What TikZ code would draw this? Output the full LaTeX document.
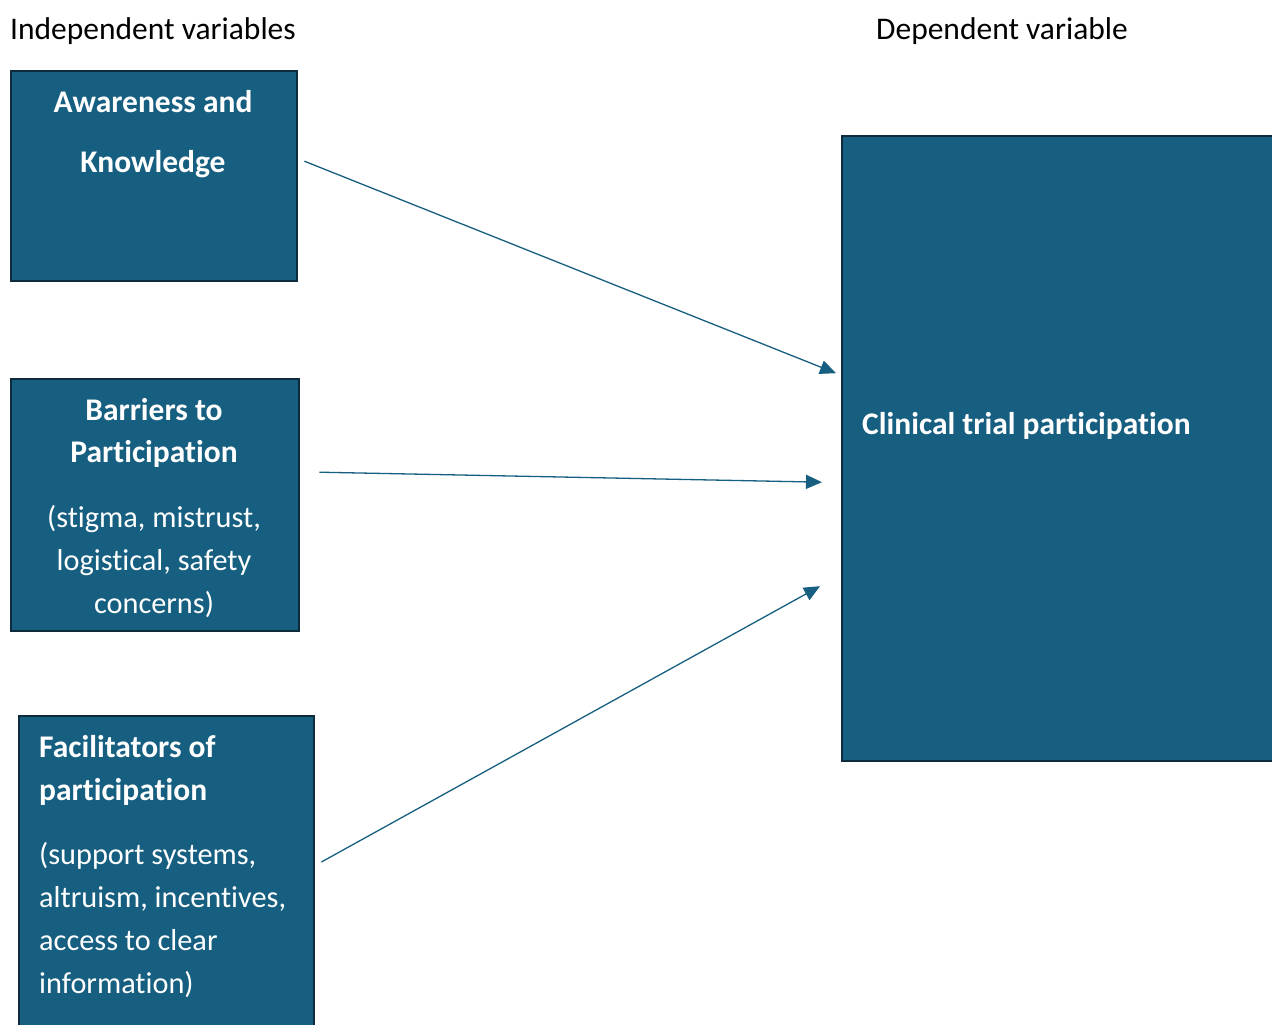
\documentclass[tikz,border=0pt]{standalone}
\usepackage{fontspec}
\setmainfont{Carlito}[Ligatures=NoCommon]
\usetikzlibrary{arrows.meta}
\definecolor{boxfill}{HTML}{175F80}
\definecolor{boxedge}{HTML}{0E2B3D}
\begin{document}
\begin{tikzpicture}[x=1pt,y=-1pt,
  box/.style={draw=boxedge, line width=2.4pt, fill=boxfill, anchor=north west, inner sep=0pt},
  hdr/.style={anchor=base west, inner sep=0pt, text=black, font=\fontsize{31.5}{36}\selectfont},
  headline/.style={inner sep=0pt, text=white, font=\fontsize{31.5}{36}\selectfont\bfseries},
  bodyline/.style={inner sep=0pt, text=white, font=\fontsize{30.3}{36}\selectfont},
  link/.style={draw=boxfill, line width=1.3pt, -{Triangle[length=16pt,width=14pt]}}]
\useasboundingbox (0,0) rectangle (1272,1025);
\clip (0,0) rectangle (1272,1025);

% column headings
\node[hdr] (hind) at (10,40) {Independent variables};
\node[hdr] (hdep) at (876,40) {Dependent variable};

% boxes
\node[box, minimum width=286pt, minimum height=210pt] (aw) at (10,70) {};
\node[box, minimum width=288pt, minimum height=252pt] (ba) at (10,378) {};
\node[box, minimum width=295pt, minimum height=340pt] (fa) at (18,715) {};
\node[box, minimum width=460pt, minimum height=625pt] (dv) at (841,135) {};

% awareness box text
\node[headline, anchor=base] (aw1) at (153,112) {Awareness and};
\node[headline, anchor=base] (aw2) at (153,172) {Knowledge};

% barriers box text
\node[headline, anchor=base] (ba1) at (154,420) {Barriers to};
\node[headline, anchor=base] (ba2) at (154,462) {Participation};
\node[bodyline, anchor=base] (ba3) at (154,527) {(stigma, mistrust,};
\node[bodyline, anchor=base] (ba4) at (154,570) {logistical, safety};
\node[bodyline, anchor=base] (ba5) at (154,613) {concerns)};

% facilitators box text
\node[headline, anchor=base west] (fa1) at (39,757) {Facilitators of};
\node[headline, anchor=base west] (fa2) at (39,800) {participation};
\node[bodyline, anchor=base west] (fa3) at (39,864) {(support systems,};
\node[bodyline, anchor=base west] (fa4) at (39,907) {altruism, incentives,};
\node[bodyline, anchor=base west] (fa5) at (39,950) {access to clear};
\node[bodyline, anchor=base west] (fa6) at (39,993) {information)};

% outcome box text
\node[headline, anchor=base west] (dv1) at (862,434) {Clinical trial participation};

% connectors
\draw[link] ([xshift=6pt,yshift=15pt]aw.east) -- ([xshift=-5pt,yshift=75.5pt]dv.west);
\draw[link] ([xshift=19pt,yshift=33pt]ba.east) -- ([xshift=-19pt,yshift=-33.5pt]dv.west);
\draw[link] ([xshift=6pt,yshift=-147pt]fa.north east) -- ([xshift=-21pt,yshift=-137.5pt]dv.west);
\end{tikzpicture}
\end{document}
